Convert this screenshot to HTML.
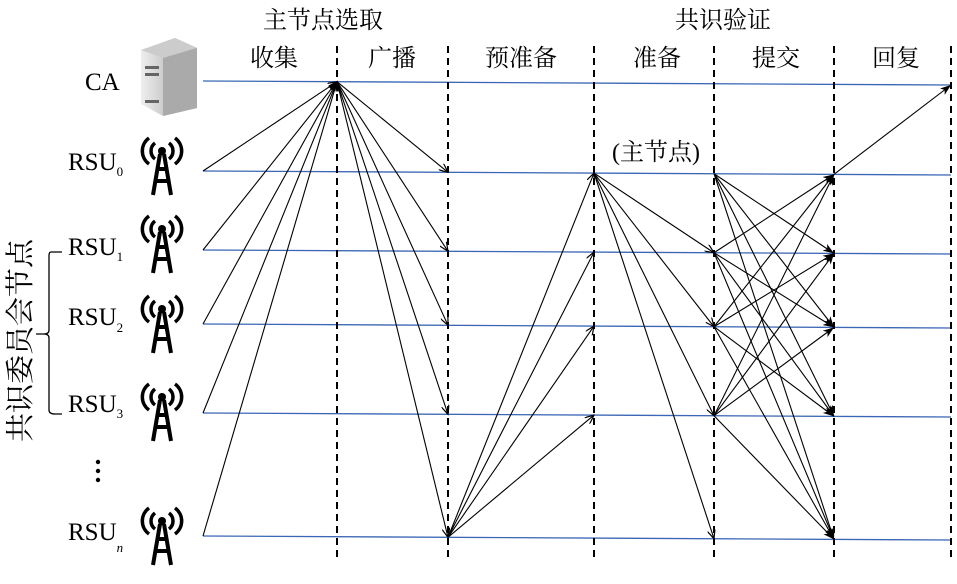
<!DOCTYPE html>
<html><head><meta charset="utf-8"><style>
body{margin:0;background:#fff}
svg text{font-family:"Liberation Serif","Noto Serif CJK SC",serif;fill:#000}
</style></head><body>
<svg id="s" width="957" height="579" viewBox="0 0 957 579" xmlns="http://www.w3.org/2000/svg">
<defs>
<marker id="a" markerWidth="10" markerHeight="8" refX="9" refY="4" orient="auto" markerUnits="userSpaceOnUse">
<path d="M0,0 L9,4 L0,8" fill="none" stroke="#000" stroke-width="1.2"/></marker>
<marker id="b" markerWidth="12" markerHeight="8" refX="11" refY="4" orient="auto" markerUnits="userSpaceOnUse">
<path d="M0,0 L11,4 L0,8 L3,4z" fill="#000"/></marker>
<g id="tw">
<circle cx="0" cy="-14" r="4" fill="#000"/>
<path d="M-7,-22 A10,10 0 0 0 -7,-6 M7,-22 A10,10 0 0 1 7,-6 M-13,-27 A16,16 0 0 0 -13,-1 M13,-27 A16,16 0 0 1 13,-1" fill="none" stroke="#000" stroke-width="3.5"/>
<path d="M-2,-11 L-9,30 M2,-11 L9,30 M-5,4 L5,4 M-7,16 L7,16" stroke="#000" stroke-width="4" fill="none"/>
</g>
<linearGradient id="g" x1="0" x2="1"><stop offset="0" stop-color="#eee"/><stop offset="1" stop-color="#999"/></linearGradient>
</defs>
<g font-size="24" text-anchor="middle">
<text x="323" y="28">主节点选取</text>
<text x="723" y="28">共识验证</text>
<text x="274" y="66">收集</text><text x="392" y="66">广播</text><text x="521" y="66">预准备</text>
<text x="657" y="66">准备</text><text x="776" y="66">提交</text><text x="896" y="66">回复</text>
<text x="656" y="160" font-size="24">(主节点)</text>
</g>
<g font-size="25">
<text x="85" y="90">CA</text>
<text x="68" y="170">RSU<tspan font-size="13" dy="6">0</tspan></text>
<text x="68" y="255">RSU<tspan font-size="13" dy="6">1</tspan></text>
<text x="68" y="325">RSU<tspan font-size="13" dy="7">2</tspan></text>
<text x="68" y="412">RSU<tspan font-size="13" dy="6">3</tspan></text>
<text x="68" y="540">RSU<tspan font-size="13" dy="12" font-style="italic">n</tspan></text>
</g>
<g fill="#000"><circle cx="98" cy="462" r="2.2"/><circle cx="98" cy="471" r="2.2"/><circle cx="98" cy="480" r="2.2"/></g>
<path d="M62,252 L51,252 Q49,252 49,256 L49,330 Q49,334 44,334 L36,334 M44,334 Q49,334 49,338 L49,410 Q49,414 55,414 L62,414" fill="none" stroke="#000" stroke-width="1.3"/>
<text x="0" y="0" font-size="29" transform="translate(30,442) rotate(-90)">共识委员会节点</text>
<g>
<path d="M141,50 L175,38 L197,48 L197,108 L163,116 L141,104z" fill="url(#g)"/>
<path d="M141,50 L175,38 L197,48 L163,58z" fill="#ccc"/>
<path d="M163,58 L197,48 L197,108 L163,116z" fill="#aaa"/>
<rect x="145" y="66" width="14" height="3" fill="#666"/><rect x="145" y="73" width="14" height="3" fill="#666"/><rect x="145" y="100" width="14" height="3" fill="#666"/>
</g>
<use href="#tw" x="162" y="165"/><use href="#tw" x="162" y="243"/><use href="#tw" x="162" y="323"/>
<use href="#tw" x="162" y="411"/><use href="#tw" x="162" y="535"/>
<g id="L"></g>
</svg>
<script>
var s=document.getElementById('L'),ns='http://www.w3.org/2000/svg';
var R=[[81,85],[171,175],[250,254],[324,328],[413,417],[536,540]];
function y(r,x){return R[r][0]+(R[r][1]-R[r][0])*(x-203)/(951-203);}
function ln(x1,y1,x2,y2,c,w,d,m){var e=document.createElementNS(ns,'line');e.setAttribute('x1',x1);e.setAttribute('y1',y1);e.setAttribute('x2',x2);e.setAttribute('y2',y2);e.setAttribute('stroke',c);e.setAttribute('stroke-width',w);if(d)e.setAttribute('stroke-dasharray',d);if(m)e.setAttribute('marker-end','url(#'+m+')');s.appendChild(e);}
for(var r=0;r<6;r++)ln(203,R[r][0],951,R[r][1],'#3a66b5',1.3);
[337,448,594,714,834,951].forEach(function(x){ln(x,46,x,560,'#000',2,'7,5');});
var cx=337,cy=y(0,337);
for(r=1;r<6;r++)ln(203,y(r,203),cx,cy,'#000',1.1,null,'a');
for(r=1;r<6;r++)ln(cx,cy,448,y(r,448),'#000',1.1,null,'a');
for(r=1;r<5;r++)ln(448,y(5,448),594,y(r,594),'#000',1.1,null,'a');
for(r=2;r<6;r++)ln(594,y(1,594),714,y(r,714),'#000',1.1,null,'a');
for(var i=1;i<5;i++)for(var j=1;j<6;j++)if(i!=j)ln(714,y(i,714),834,y(j,834),'#000',1.1,null,'b');
ln(834,y(1,834),951,y(0,951),'#000',1.1,null,'b');
</script>
</body></html>
